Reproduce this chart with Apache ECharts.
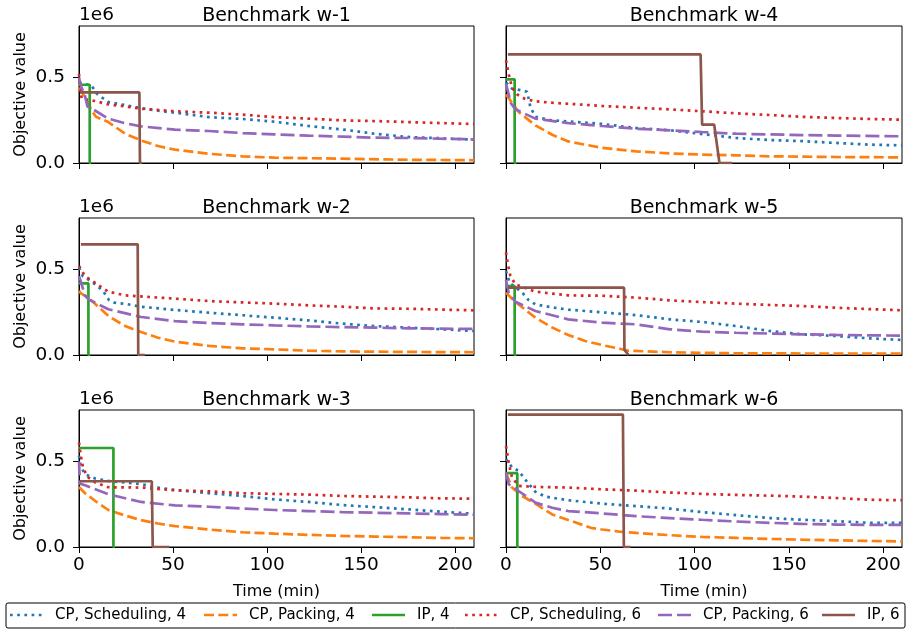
<!DOCTYPE html>
<html>
<head>
<meta charset="utf-8">
<script src="https://cdn.jsdelivr.net/npm/echarts@6/dist/echarts.min.js"></script>
<style>
html, body { margin: 0; padding: 0; background: #fff; }
#chart { width: 910px; height: 632px; }
</style>
</head>
<body>
<div id="chart"></div>
<script>
// time in minutes, objective value in units of 1e6
var methods = ['CP, Scheduling, 4', 'CP, Packing, 4', 'IP, 4', 'CP, Scheduling, 6', 'CP, Packing, 6', 'IP, 6'];
var xTicks = [0, 50, 100, 150, 200];
var yTicks = [0, 0.5];

// Benchmark w-1
var w1Sched4 = [[0,0.47],[2,0.462],[6.7,0.453],[9.4,0.405],[15.6,0.356],[21,0.345],[33,0.321],[44,0.302],[51,0.294],[69,0.268],[87,0.257],[104,0.241],[122,0.216],[140,0.196],[157,0.171],[175,0.152],[193,0.144],[210,0.136]];
var w1Pack4 = [[0,0.44],[1,0.42],[3.2,0.385],[6.7,0.307],[9,0.27],[15.6,0.239],[24.5,0.171],[33,0.132],[42,0.099],[51,0.078],[69,0.054],[87,0.039],[104,0.031],[140,0.025],[175,0.019],[210,0.016]];
var w1Ip4 = [[0,0.457],[5.7,0.457],[5.7,0],[6.5,0]];
var w1Sched6 = [[0,0.52],[0.7,0.45],[1.4,0.375],[8.5,0.362],[15.6,0.342],[24.5,0.33],[33,0.317],[51,0.302],[69,0.294],[87,0.282],[104,0.268],[122,0.259],[140,0.249],[157,0.245],[175,0.239],[193,0.233],[210,0.228]];
var w1Pack6 = [[0,0.5],[1,0.45],[3,0.4],[4.5,0.33],[8,0.31],[15.6,0.259],[24.5,0.232],[33,0.214],[51,0.195],[69,0.187],[87,0.175],[104,0.167],[122,0.16],[140,0.154],[157,0.148],[175,0.146],[210,0.138]];
var w1Ip6 = [[0.5,0.412],[32.1,0.412],[32.4,0],[33.5,0]];

// Benchmark w-2
var w2Sched4 = [[0,0.51],[2,0.46],[5,0.44],[9,0.41],[13,0.37],[16,0.32],[19,0.305],[25,0.298],[33,0.282],[51,0.263],[69,0.247],[87,0.232],[104,0.218],[122,0.202],[140,0.183],[157,0.169],[175,0.16],[193,0.15],[210,0.14]];
var w2Pack4 = [[0,0.374],[1,0.36],[5,0.335],[15.6,0.228],[24.5,0.169],[33,0.134],[42,0.101],[51,0.078],[69,0.053],[87,0.039],[104,0.033],[122,0.025],[140,0.021],[175,0.018],[210,0.016]];
var w2Ip4 = [[0,0.418],[5,0.418],[5,0],[6,0]];
var w2Sched6 = [[0,0.52],[3.2,0.461],[8.5,0.422],[15.6,0.37],[24.5,0.348],[33,0.342],[51,0.329],[69,0.315],[87,0.307],[104,0.3],[122,0.29],[140,0.282],[157,0.272],[175,0.27],[193,0.265],[210,0.261]];
var w2Pack6 = [[0,0.46],[1,0.43],[3,0.35],[5,0.325],[15.6,0.267],[33,0.222],[51,0.198],[69,0.187],[87,0.179],[104,0.173],[122,0.167],[140,0.163],[157,0.16],[175,0.156],[210,0.152]];
var w2Ip6 = [[1,0.646],[31.2,0.646],[31.5,0],[35,0]];

// Benchmark w-3
var w3Sched4 = [[0,0.533],[1,0.47],[3.2,0.425],[8.5,0.4],[15.6,0.386],[33,0.367],[42,0.347],[51,0.333],[69,0.314],[87,0.298],[104,0.278],[122,0.263],[140,0.245],[157,0.233],[175,0.22],[193,0.206],[210,0.194]];
var w3Pack4 = [[0,0.35],[3.2,0.314],[8.5,0.27],[15.6,0.216],[24.5,0.184],[33,0.157],[42,0.137],[51,0.122],[69,0.102],[87,0.086],[104,0.078],[122,0.071],[140,0.065],[157,0.061],[175,0.057],[193,0.053],[210,0.051]];
var w3Ip4 = [[0,0.578],[18.3,0.578],[18.3,0],[19,0]];
var w3Sched6 = [[0,0.61],[1,0.53],[2.3,0.455],[5,0.406],[8.5,0.378],[15.6,0.349],[33,0.347],[51,0.331],[69,0.325],[87,0.314],[104,0.31],[122,0.306],[140,0.298],[157,0.294],[175,0.29],[193,0.284],[210,0.282]];
var w3Pack6 = [[0,0.5],[0.5,0.37],[3.2,0.361],[15.6,0.308],[33,0.263],[51,0.243],[69,0.235],[87,0.225],[104,0.216],[122,0.21],[140,0.204],[157,0.2],[175,0.196],[193,0.192],[210,0.188]];
var w3Ip6 = [[0.5,0.384],[38.7,0.384],[39.2,0],[48,0]];

// Benchmark w-4
var w4Sched4 = [[0,0.47],[3.2,0.434],[8.5,0.424],[11.2,0.416],[12.9,0.328],[15.6,0.27],[23.6,0.25],[33,0.243],[51,0.228],[69,0.204],[87,0.191],[104,0.169],[122,0.146],[140,0.134],[157,0.128],[175,0.117],[193,0.107],[210,0.103]];
var w4Pack4 = [[0,0.4],[1,0.385],[6.7,0.298],[15.6,0.22],[24.5,0.165],[33,0.126],[51,0.088],[69,0.068],[87,0.056],[104,0.049],[122,0.045],[140,0.039],[175,0.035],[210,0.033]];
var w4Ip4 = [[0,0.488],[4.6,0.488],[4.6,0],[5.5,0]];
var w4Sched6 = [[0,0.6],[1.4,0.52],[3.2,0.44],[6,0.4],[10,0.375],[15.6,0.36],[24.5,0.352],[33,0.346],[51,0.333],[69,0.323],[87,0.313],[104,0.302],[122,0.29],[140,0.28],[157,0.27],[175,0.263],[193,0.257],[210,0.253]];
var w4Pack6 = [[0,0.46],[1,0.42],[2.5,0.35],[5,0.313],[15.6,0.259],[33,0.233],[51,0.216],[69,0.2],[87,0.191],[104,0.181],[122,0.171],[140,0.167],[157,0.163],[175,0.16],[210,0.156]];
var w4Ip6 = [[1,0.634],[103.2,0.634],[104,0.224],[110.4,0.224],[113.2,0],[120,0]];

// Benchmark w-5
var w5Sched4 = [[0,0.49],[2,0.42],[5,0.395],[9,0.36],[12,0.32],[15.6,0.296],[24.5,0.278],[33,0.265],[51,0.249],[69,0.233],[87,0.208],[104,0.193],[122,0.169],[140,0.14],[157,0.121],[175,0.111],[193,0.097],[210,0.088]];
var w5Pack4 = [[0,0.364],[5,0.31],[15.6,0.218],[24.5,0.16],[33,0.117],[42,0.082],[51,0.058],[60,0.037],[65,0.025],[87,0.016],[122,0.01],[175,0.008],[210,0.008]];
var w5Ip4 = [[0,0.403],[4.6,0.403],[4.6,0],[5.5,0]];
var w5Sched6 = [[0,0.6],[1,0.53],[2.3,0.463],[5,0.412],[15.6,0.37],[33,0.348],[51,0.346],[69,0.335],[87,0.319],[104,0.309],[122,0.3],[140,0.292],[157,0.286],[175,0.276],[193,0.268],[210,0.261]];
var w5Pack6 = [[0,0.44],[1.4,0.364],[5,0.311],[15.6,0.257],[33,0.208],[51,0.189],[69,0.179],[87,0.15],[104,0.136],[122,0.13],[140,0.125],[157,0.121],[175,0.117],[210,0.113]];
var w5Ip6 = [[1,0.393],[62.6,0.393],[62.8,0.03],[65,0]];

// Benchmark w-6
var w6Sched4 = [[0,0.514],[3.2,0.465],[6.7,0.445],[10,0.396],[15.6,0.322],[21,0.294],[33,0.273],[51,0.253],[69,0.239],[87,0.224],[104,0.204],[122,0.186],[140,0.169],[157,0.159],[175,0.151],[193,0.141],[210,0.141]];
var w6Pack4 = [[0,0.43],[3.2,0.347],[8.5,0.298],[15.6,0.253],[24.5,0.19],[33,0.158],[45,0.112],[51,0.102],[60,0.09],[69,0.082],[87,0.069],[104,0.059],[122,0.053],[140,0.047],[157,0.043],[175,0.039],[193,0.035],[210,0.033]];
var w6Ip4 = [[0,0.431],[6,0.431],[6,0],[7,0]];
var w6Sched6 = [[0,0.59],[1.4,0.494],[3.2,0.406],[6.7,0.357],[15.6,0.351],[33,0.347],[51,0.337],[69,0.329],[87,0.318],[104,0.31],[122,0.304],[140,0.3],[157,0.294],[175,0.286],[193,0.276],[210,0.273]];
var w6Pack6 = [[0,0.435],[1.4,0.367],[6.7,0.327],[15.6,0.259],[24.5,0.229],[33,0.21],[51,0.196],[69,0.18],[87,0.169],[104,0.159],[122,0.149],[140,0.141],[157,0.135],[175,0.131],[193,0.129],[210,0.129]];
var w6Ip6 = [[1,0.773],[62,0.773],[62.5,0],[66,0]];

var benchmarks = ['w-1', 'w-2', 'w-3', 'w-4', 'w-5', 'w-6'];
var runs = [
    [w1Sched4, w1Pack4, w1Ip4, w1Sched6, w1Pack6, w1Ip6],
    [w2Sched4, w2Pack4, w2Ip4, w2Sched6, w2Pack6, w2Ip6],
    [w3Sched4, w3Pack4, w3Ip4, w3Sched6, w3Pack6, w3Ip6],
    [w4Sched4, w4Pack4, w4Ip4, w4Sched6, w4Pack6, w4Ip6],
    [w5Sched4, w5Pack4, w5Ip4, w5Sched6, w5Pack6, w5Ip6],
    [w6Sched4, w6Pack4, w6Ip4, w6Sched6, w6Pack6, w6Ip6]
];

var colors = ['#1f77b4', '#ff7f0e', '#2ca02c', '#d62728', '#9467bd', '#8c564b'];
var dashes = [[2.7, 4.5], [10, 4.3], 'solid', [2.7, 4.5], [14, 5], 'solid'];
var font = 'DejaVu Sans';
var lw = 2.7;

// panel layout (3 rows x 2 columns, filled by column)
var colLeft = [79, 506];
var colWidth = [395, 396];
var rowTop = [26, 218, 410];
var plotH = 137;

var chart = echarts.init(document.getElementById('chart'));

var grids = [], xAxes = [], yAxes = [], series = [], graphics = [];

benchmarks.forEach(function (name, i) {
    var col = Math.floor(i / 3), row = i % 3;
    var left = colLeft[col], top = rowTop[row], w = colWidth[col];
    grids.push({
        left: left, top: top, width: w, height: plotH,
        show: true, borderColor: '#000', borderWidth: 1, backgroundColor: 'transparent'
    });
    xAxes.push({
        type: 'value', gridIndex: i, min: 0, max: 210, interval: 50,
        axisLine: { show: true, onZero: false, lineStyle: { color: '#000', width: 1 } },
        axisTick: { show: true, length: 6, customValues: xTicks, lineStyle: { color: '#000' } },
        axisLabel: {
            show: row === 2, customValues: xTicks, margin: 9,
            color: '#000', fontFamily: font, fontSize: 18.5
        },
        splitLine: { show: false }
    });
    yAxes.push({
        type: 'value', gridIndex: i, min: 0, max: 0.8, interval: 0.5,
        axisLine: { show: true, onZero: false, lineStyle: { color: '#000', width: 1 } },
        axisTick: { show: true, length: 6, customValues: yTicks, lineStyle: { color: '#000' } },
        axisLabel: {
            show: col === 0, customValues: yTicks, margin: 14,
            color: '#000', fontFamily: font, fontSize: 18.5,
            formatter: function (v) { return v.toFixed(1); }
        },
        splitLine: { show: false }
    });
    runs[i].forEach(function (data, k) {
        series.push({
            name: methods[k], type: 'line', xAxisIndex: i, yAxisIndex: i,
            data: data, symbol: 'none', silent: true, clip: true,
            lineStyle: { color: colors[k], width: lw, type: dashes[k], cap: 'butt' },
            itemStyle: { color: colors[k] }
        });
    });
    // title
    graphics.push({
        type: 'text', x: left + w / 2, y: top - 10,
        style: { text: 'Benchmark ' + name, font: '19px "' + font + '"', fill: '#000',
                 textAlign: 'center', textVerticalAlign: 'middle' }
    });
    if (col === 0) {
        graphics.push({
            type: 'text', x: left, y: top - 11,
            style: { text: '1e6', font: '18.5px "' + font + '"', fill: '#000',
                     textAlign: 'left', textVerticalAlign: 'middle' }
        });
        graphics.push({
            type: 'text', x: 21, y: top + plotH / 2, rotation: Math.PI / 2,
            style: { text: 'Objective value', font: '16px "' + font + '"', fill: '#000',
                     textAlign: 'center', textVerticalAlign: 'middle' }
        });
    }
    if (row === 2) {
        graphics.push({
            type: 'text', x: left + w / 2, y: 592,
            style: { text: 'Time (min)', font: '16px "' + font + '"', fill: '#000',
                     textAlign: 'center', textVerticalAlign: 'middle' }
        });
    }
});

// legend along the bottom
var legendY = 615;
var handleX = [10, 204, 372, 465, 658, 822];
graphics.push({
    type: 'rect', shape: { x: 6, y: 603, width: 899, height: 25, r: 2 },
    style: { fill: '#fff', stroke: '#000', lineWidth: 1 }
});
methods.forEach(function (m, k) {
    graphics.push({
        type: 'line', shape: { x1: handleX[k], y1: legendY, x2: handleX[k] + 33, y2: legendY },
        style: { stroke: colors[k], lineWidth: lw, lineDash: dashes[k] === 'solid' ? null : dashes[k] }
    });
    graphics.push({
        type: 'text', x: handleX[k] + 45, y: legendY,
        style: { text: m, font: '15px "' + font + '"', fill: '#000',
                 textAlign: 'left', textVerticalAlign: 'middle' }
    });
});

chart.setOption({
    animation: false,
    grid: grids,
    xAxis: xAxes,
    yAxis: yAxes,
    series: series,
    graphic: graphics
});
</script>
</body>
</html>
